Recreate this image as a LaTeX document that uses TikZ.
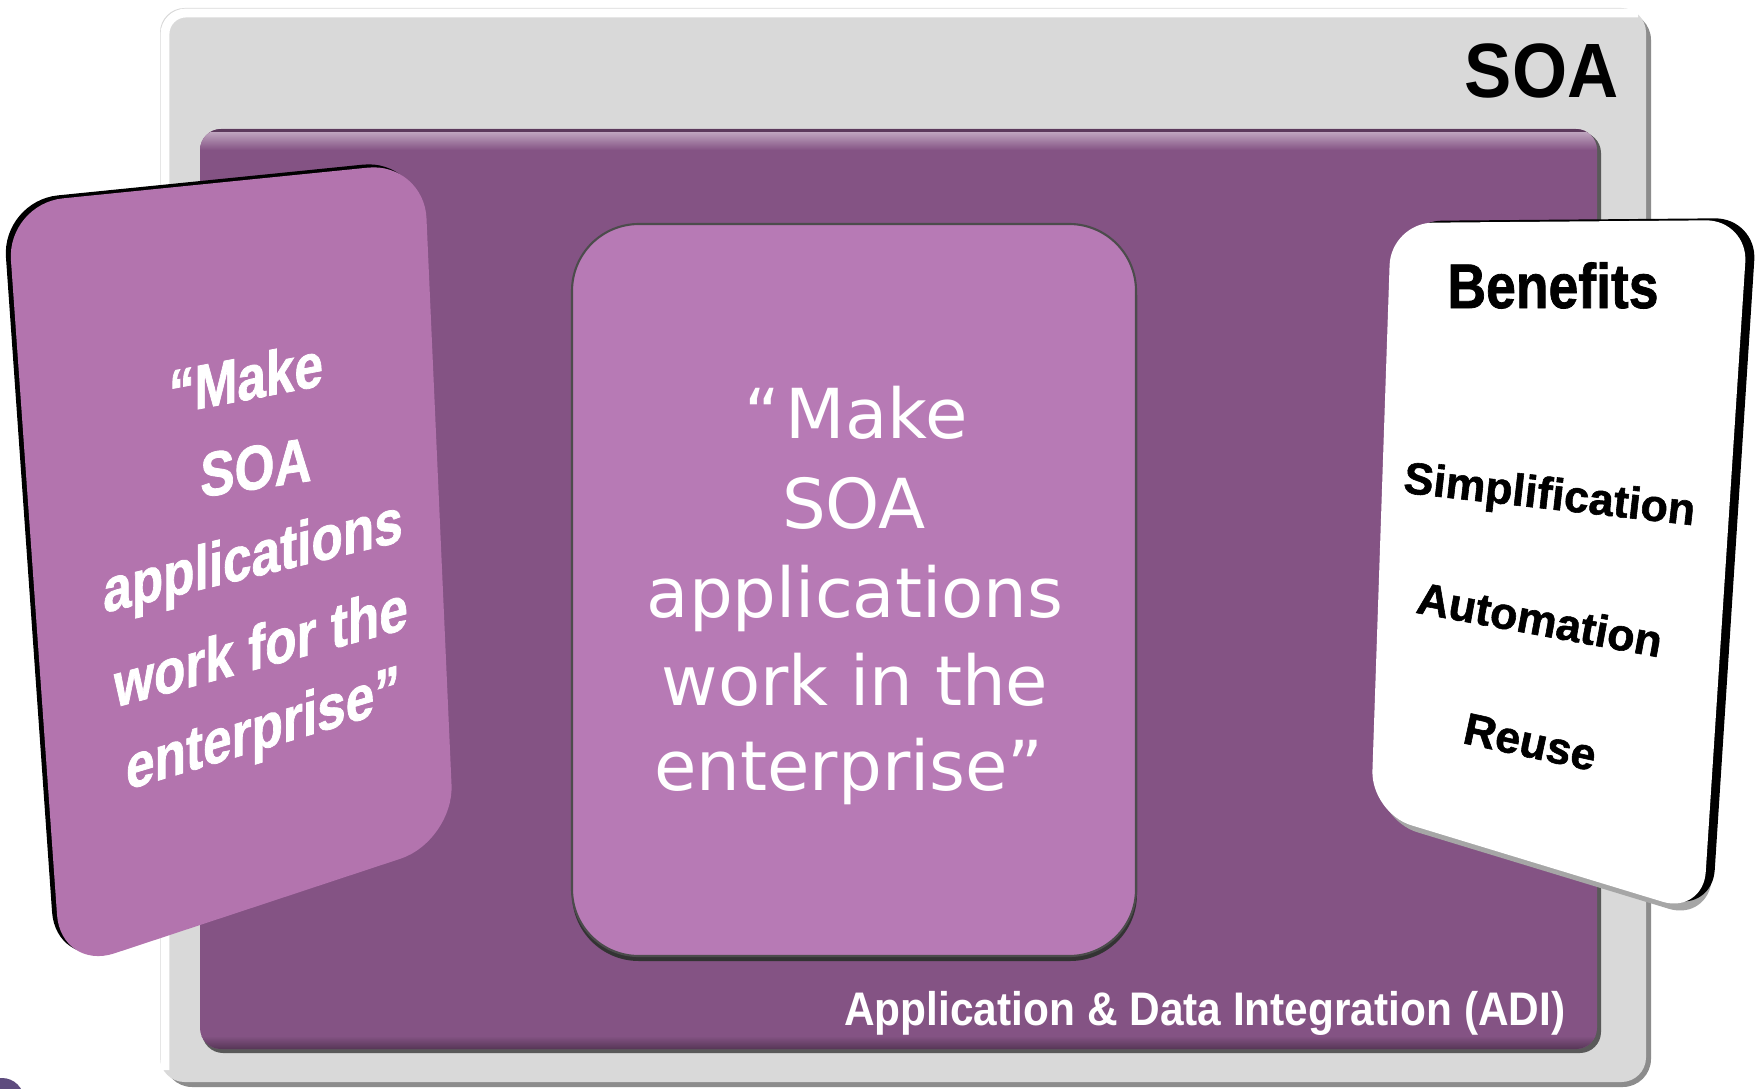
\documentclass[tikz,border=0pt]{standalone}
\usepackage{fontspec}
\usepackage{graphicx}
\setmainfont{Liberation Sans}
\newfontfamily\humanist{DejaVu Sans}
\newfontfamily\heavysans{Liberation Sans}[BoldFeatures={FakeBold=1.3}]
\definecolor{boxgray}{HTML}{D9D9D9}
\definecolor{adipurple}{HTML}{845384}
\definecolor{cardpurple}{HTML}{B77AB5}
\definecolor{leftpurple}{HTML}{B374AE}
\definecolor{blobpurple}{HTML}{5E4C7E}
\tikzset{
  centertext/.style={anchor=base, inner sep=0pt, text=white, font=\humanist\fontsize{19.6}{24}\selectfont},
  lefttext/.style={anchor=base, inner sep=0pt, text=white, font=\heavysans\bfseries\fontsize{17.8}{22}\selectfont},
  benefit/.style={anchor=base, inner sep=0pt, text=black, font=\heavysans\bfseries\fontsize{12.7}{15}\selectfont},
}
\begin{document}
\begin{tikzpicture}[x=0.01cm,y=-0.01cm]
\useasboundingbox (0,0) rectangle (1758,1088);
\fill[white] (0,0) rectangle (1758,1088);
% tiny blob bottom-left
\fill[blobpurple] (2,1100) circle (22);
% outer SOA box
\fill[black!45, rounded corners=8pt] (164,12) rectangle (1651,1087);
\fill[boxgray, rounded corners=7pt] (160,8) rectangle (1646,1082);
\draw[white, line width=2.5pt, rounded corners=6pt] (165,1070) -- (165,13) -- (1638,13);
% ADI purple box
\fill[black!65, rounded corners=6pt] (202,132) rectangle (1601,1053);
\fill[adipurple, rounded corners=6pt] (200,129) rectangle (1597,1049);
\begin{scope}
  \clip[rounded corners=6pt] (200,129) rectangle (1597,1049);
  \fill[adipurple!70!black] (200,129) rectangle (1597,133);
  \shade[top color=adipurple!55!white, bottom color=adipurple] (200,133) rectangle (1597,150);
  \shade[top color=adipurple, bottom color=adipurple!65!black] (200,1036) rectangle (1597,1049);
\end{scope}
% titles
\node[anchor=base east, inner sep=0pt, font=\bfseries\fontsize{21.9}{26}\selectfont] (soa) at (1619,98) {\scalebox{0.92}[1]{SOA}};
\node[anchor=base east, inner sep=0pt, text=white, font=\bfseries\fontsize{13.4}{16}\selectfont] (adi) at (1566,1025) {\scalebox{0.9}[1]{Application \& Data Integration (ADI)}};
% centre card
\fill[black!80, rounded corners=19pt] (572,229) rectangle (1137,961);
\fill[cardpurple, draw=black!70, line width=0.6pt, rounded corners=19pt] (572,224) rectangle (1136,956);
\node[centertext] (c1) at (856,438) {“\hspace{0.08em}Make};
\node[centertext] (c2) at (854,528) {SOA};
\node[centertext] (c3) at (855,617) {applications};
\node[centertext] (c4) at (855,705) {work in the};
\node[centertext] (c5) at (849,790) {enterprise”};
% left card
\fill[black, rounded corners=16pt, shift={(-5,-3)}] (7,204) -- (424,162) -- (454,841) -- (61,971) -- cycle;
\fill[leftpurple, rounded corners=16pt] (7,204) -- (424,162) -- (454,841) -- (61,971) -- cycle;
\node[lefttext, yslant=0.19] (l1) at (246,400) {\scalebox{0.82}[1]{“Make}};
\node[lefttext, yslant=0.15] (l2) at (256,489) {\scalebox{0.82}[1]{SOA}};
\node[lefttext, yslant=0.24] (l3) at (253,577) {\scalebox{0.82}[1]{applications}};
\node[lefttext, yslant=0.27] (l4) at (261,668) {\scalebox{0.82}[1]{work for the}};
\node[lefttext, yslant=0.30] (l5) at (263,749) {\scalebox{0.82}[1]{enterprise”}};
% right card
\fill[black!35, rounded corners=12pt, shift={(6,7)}] (1391,223) -- (1748,220) -- (1703,914) -- (1371,813) -- cycle;
\fill[black, rounded corners=12pt, shift={(9,-2)}] (1391,223) -- (1748,220) -- (1703,914) -- (1371,813) -- cycle;
\fill[white, rounded corners=12pt] (1391,223) -- (1748,220) -- (1703,914) -- (1371,813) -- cycle;
\node[anchor=base, inner sep=0pt, font=\heavysans\bfseries\fontsize{17.9}{21}\selectfont] (ben) at (1553,308) {\scalebox{0.85}[1]{Benefits}};
\node[benefit, rotate=-6.4] (b1) at (1548,509) {Simplification};
\node[benefit, rotate=-10.4] (b2) at (1537,635) {Automation};
\node[benefit, rotate=-12.2] (b3) at (1527,757) {Reuse};
\end{tikzpicture}
\end{document}
